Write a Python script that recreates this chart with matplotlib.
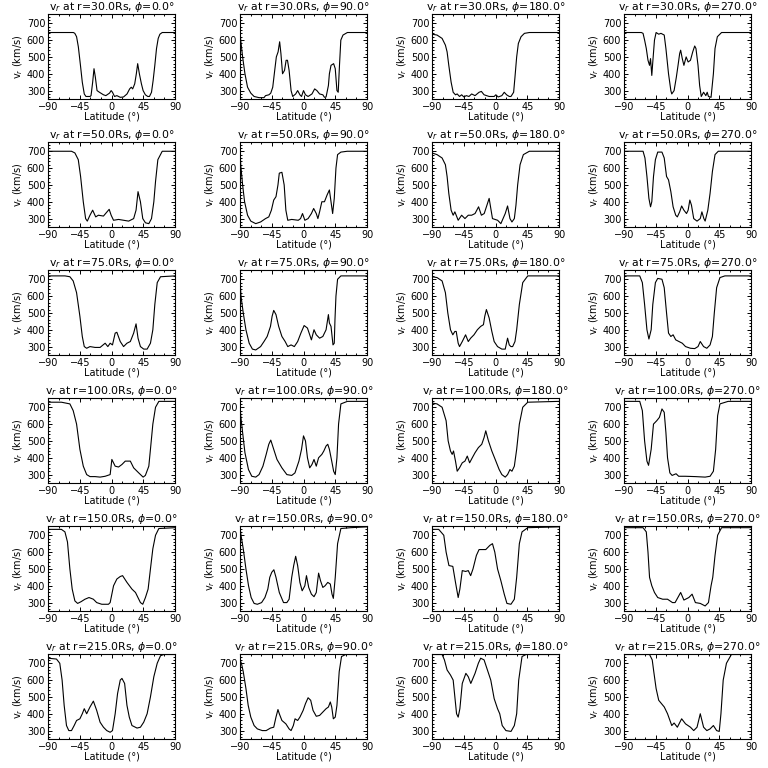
import numpy as np
import matplotlib
matplotlib.use("Agg")
import matplotlib.pyplot as plt
from matplotlib.ticker import MultipleLocator

radii = [30.0, 50.0, 75.0, 100.0, 150.0, 215.0]
phis = [0.0, 90.0, 180.0, 270.0]

# r = 30 Rs
lat_r30_p0 = [-90, -54, -52, -49.5, -47, -44, -41.4, -38.6, -36.2, -30.5, -29, -26.7, -24.8, -22.9, -20.5, -17.1, -11.4, -8, -2.8, -0.5, 1.4, 4.3, 7.6, 12.4, 17, 22, 25.7, 28, 30, 32.9, 35.2, 37.1, 39.5, 42.4, 44.8, 48, 51.4, 53.8, 56.7, 59, 61.4, 63.8, 66.2, 68.6, 71.9, 90]
v_r30_p0 = [645, 645, 640, 620, 560, 450, 350, 280, 265, 265, 270, 350, 430, 380, 300, 290, 275, 270, 285, 300, 290, 265, 270, 260, 262, 280, 310, 320, 310, 340, 400, 460, 400, 340, 300, 275, 265, 265, 290, 360, 450, 550, 610, 635, 645, 645]
lat_r30_p90 = [-90, -89, -86.3, -83, -79.3, -74.7, -70, -63, -56, -53.8, -49, -46.4, -43.6, -40.8, -38.5, -36, -33.8, -32, -29.7, -26.9, -24.6, -22.7, -20.4, -17.6, -15.3, -11.1, -8.3, -5.1, -2.8, 0, 2.8, 6.5, 12, 15.8, 19, 22.8, 27.4, 29.7, 32, 35.3, 36.7, 39, 42.7, 45, 47.4, 49.2, 51, 52.9, 56, 62.2, 90]
v_r30_p90 = [650, 600, 500, 400, 320, 285, 265, 258, 258, 270, 275, 285, 320, 420, 500, 530, 590, 520, 400, 420, 480, 480, 420, 300, 265, 280, 300, 275, 265, 300, 275, 265, 280, 310, 300, 280, 275, 260, 262, 330, 400, 450, 460, 430, 300, 290, 450, 600, 630, 645, 645]
lat_r30_p180 = [-90, -82.9, -75.7, -71, -68.6, -66.2, -62.9, -60, -56.7, -54.3, -51, -48, -44.8, -41.4, -37.6, -33.8, -29, -23.3, -20, -16.2, -9, -1.9, 0.5, 3.8, 9, 12.4, 15.7, 19.5, 21.9, 25.7, 27.6, 30, 32.4, 36.2, 41, 48, 90]
v_r30_p180 = [635, 630, 610, 570, 530, 450, 350, 290, 275, 280, 265, 275, 262, 270, 265, 280, 270, 290, 295, 275, 265, 265, 275, 262, 270, 290, 275, 265, 265, 290, 380, 500, 580, 620, 640, 645, 645]
lat_r30_p270 = [-90, -65.4, -63, -60.8, -58.4, -56, -53.8, -52.4, -50.6, -49.2, -46.8, -44.5, -40.8, -37.6, -33, -30.6, -26.9, -23.6, -22.3, -19, -15.8, -13.4, -11.1, -9.7, -7.4, -5.1, -1.9, 0.9, 4.2, 7.4, 10.2, 12, 14.9, 17.2, 19.5, 22.8, 26, 27.9, 29.7, 33.4, 36.7, 39, 42.3, 48.3, 90]
v_r30_p270 = [645, 645, 640, 600, 550, 480, 450, 490, 390, 470, 600, 645, 635, 640, 630, 550, 400, 300, 280, 300, 380, 450, 520, 540, 490, 450, 500, 470, 480, 530, 565, 550, 450, 330, 265, 290, 270, 290, 265, 260, 400, 550, 620, 645, 645]

# r = 50 Rs
lat_r50_p0 = [-90, -56.7, -51.9, -47.1, -43.8, -40, -36.7, -34.3, -30.5, -26.7, -22.4, -18.6, -11.4, -3.3, -0.5, 2.9, 10, 17.1, 24.3, 31.4, 34.8, 37.6, 41, 44.3, 48.1, 52.9, 56.7, 60, 62.4, 65.7, 71.9, 90]
v_r50_p0 = [700, 700, 690, 650, 550, 400, 300, 285, 320, 350, 310, 320, 315, 355, 320, 290, 295, 290, 285, 300, 350, 460, 400, 300, 275, 270, 300, 400, 520, 650, 700, 700]
lat_r50_p90 = [-90, -89, -86.3, -83.5, -79.3, -74.7, -67.7, -60.8, -53.8, -49.2, -45.5, -42.2, -39, -36.2, -34.3, -30.6, -27.4, -25, -22.3, -16.7, -7.4, -4.2, -1.4, 1.9, 6.5, 11.2, 14.4, 18.1, 20.4, 22.8, 26, 29.7, 33.4, 36.7, 39, 41.3, 43.6, 46, 48.3, 53, 62, 90]
v_r50_p90 = [720, 620, 500, 400, 320, 285, 270, 280, 300, 310, 350, 410, 430, 500, 570, 575, 500, 350, 290, 295, 290, 300, 330, 290, 300, 330, 360, 330, 300, 340, 400, 400, 440, 470, 400, 330, 420, 600, 680, 695, 700, 700]
lat_r50_p180 = [-90, -82.9, -75.7, -71, -68.6, -66.2, -62.9, -60, -57.6, -52.9, -48, -43.3, -38.6, -33.8, -29, -24, -20, -16, -9, -4.3, 3, 7.6, 13.8, 17.1, 20.5, 23.3, 26.7, 29, 31.4, 34.8, 39.5, 48, 90]
v_r50_p180 = [690, 680, 660, 620, 550, 450, 350, 320, 340, 290, 320, 300, 320, 320, 330, 370, 320, 330, 420, 300, 290, 270, 330, 375, 300, 280, 300, 380, 500, 620, 680, 700, 700]
lat_r50_p270 = [-90, -63, -60.3, -57.5, -54.7, -52.4, -50.6, -48.2, -45.5, -42.2, -36.2, -33, -29.7, -26.9, -23.6, -20.4, -16.7, -14.4, -11.1, -8.3, -5.1, -1.4, 0.9, 3.3, 5.6, 8.8, 13.5, 18.1, 20.4, 23.2, 25, 28.8, 32, 35.3, 39, 43.6, 90]
v_r50_p270 = [700, 700, 660, 550, 420, 370, 400, 550, 650, 695, 695, 660, 550, 530, 460, 370, 320, 310, 340, 375, 350, 330, 350, 410, 380, 300, 285, 300, 340, 300, 285, 350, 450, 580, 680, 700, 700]

# r = 75 Rs
lat_r75_p0 = [-90, -66, -59, -54.3, -49.5, -44.8, -41.4, -38.6, -35.2, -30.5, -23.3, -16.2, -9, -5.2, -1.9, 1.4, 5.2, 7.6, 12.4, 17.1, 21.9, 26.7, 31.4, 34.8, 37.6, 41, 45.7, 50.5, 55.2, 58.6, 61.4, 64.8, 69.5, 90]
v_r75_p0 = [720, 720, 715, 690, 620, 480, 360, 300, 290, 300, 295, 295, 320, 300, 320, 310, 380, 385, 330, 300, 320, 330, 380, 435, 350, 300, 285, 285, 320, 400, 550, 680, 715, 720]
lat_r75_p90 = [-90, -88.6, -85.4, -81.6, -77, -72.4, -67.7, -60.8, -56, -51.5, -46.8, -44.5, -42.2, -39, -35.2, -30.6, -26, -22.3, -17.6, -13, -8.3, -3.7, 0.9, 5.6, 8.8, 11.2, 14.9, 18.1, 22.8, 27.4, 32, 35.3, 36.7, 39, 41.8, 43.6, 44.6, 46, 48.3, 53, 90]
v_r75_p90 = [700, 600, 500, 400, 320, 285, 280, 300, 330, 360, 420, 480, 515, 490, 420, 360, 330, 300, 310, 300, 330, 380, 425, 410, 370, 340, 400, 370, 350, 360, 400, 490, 440, 420, 310, 320, 460, 600, 700, 720, 720]
lat_r75_p180 = [-90, -82.9, -75.7, -71, -67.6, -63.8, -60.5, -57.6, -55.7, -52.9, -51, -47.1, -42.4, -38.6, -35.2, -30.5, -25.7, -21, -17.1, -15.2, -12.9, -9, -5.2, -1.9, 2.9, 9, 13.8, 17.1, 19.5, 21.9, 24.3, 27.6, 30, 33.8, 38.6, 45.7, 90]
v_r75_p180 = [715, 710, 690, 620, 500, 400, 370, 390, 390, 320, 300, 330, 370, 330, 350, 370, 400, 420, 430, 480, 520, 470, 390, 330, 300, 285, 285, 350, 310, 300, 300, 330, 400, 550, 680, 720, 720]
lat_r75_p270 = [-90, -67.7, -64, -60.8, -57.5, -54.7, -51.5, -49.2, -45.5, -42.2, -36.2, -33, -29.7, -26.9, -23.6, -20.4, -16.7, -12.1, -7.4, -2.8, 4.2, 10.2, 14.9, 18.1, 22.8, 27.4, 32, 35.3, 38, 41.3, 46, 53, 90]
v_r75_p270 = [720, 720, 680, 550, 400, 345, 400, 550, 680, 705, 700, 650, 500, 380, 360, 370, 340, 330, 320, 300, 290, 288, 300, 330, 300, 290, 310, 360, 500, 650, 710, 720, 720]

# r = 100 Rs
lat_r100_p0 = [-90, -71, -59, -54.3, -49.5, -44.8, -40, -35.2, -30.5, -23.3, -16.2, -9, -1.9, 0.5, 5.2, 10, 14.8, 19.5, 26.7, 31.4, 38.6, 44.8, 48, 52.9, 55.2, 58.6, 62.4, 67.1, 90]
v_r100_p0 = [730, 730, 720, 680, 600, 450, 350, 300, 288, 288, 285, 290, 300, 390, 350, 345, 360, 380, 380, 340, 310, 285, 295, 350, 450, 600, 700, 735, 735]
lat_r100_p90 = [-90, -89, -86.3, -83, -78, -73.3, -67.7, -63, -57.5, -52.9, -49.2, -46.4, -42.2, -37.6, -30.6, -23.6, -16.7, -12.1, -6.5, -2.8, 0, 2.8, 5.6, 8.8, 12, 14.9, 18.1, 21.4, 26, 28.8, 32, 34.4, 36.7, 40, 42.7, 45, 47.4, 49.7, 53, 62.2, 90]
v_r100_p90 = [720, 650, 550, 430, 330, 290, 285, 300, 350, 420, 480, 505, 450, 390, 340, 300, 295, 310, 380, 450, 530, 500, 400, 340, 360, 390, 350, 400, 420, 440, 470, 480, 450, 380, 320, 300, 400, 600, 720, 735, 735]
lat_r100_p180 = [-90, -82.9, -75.7, -70, -67.1, -63.8, -61.4, -59.5, -56.7, -54.3, -51, -47.1, -43.3, -40, -36.7, -32.9, -29, -24.3, -19.5, -16.2, -13.8, -10, -5.2, 0.5, 5.2, 9, 13.8, 17.1, 20.5, 23.3, 26.7, 30, 33.8, 38.6, 45.7, 90]
v_r100_p180 = [725, 720, 700, 620, 500, 440, 420, 440, 380, 320, 340, 370, 380, 410, 370, 400, 430, 460, 480, 520, 560, 500, 440, 380, 330, 300, 285, 300, 330, 320, 350, 450, 600, 700, 730, 735]
lat_r100_p270 = [-90, -67.7, -64, -60.8, -57.5, -55.2, -51.5, -48.2, -43.6, -39.8, -36.2, -33, -30.6, -28.3, -25, -21.8, -16.2, -12.5, -3.2, 11.2, 25, 32, 36.7, 39.9, 42.7, 46, 57.6, 90]
v_r100_p270 = [735, 735, 680, 500, 380, 355, 450, 600, 620, 640, 690, 670, 550, 400, 310, 295, 305, 290, 290, 288, 285, 290, 320, 450, 650, 720, 735, 735]

# r = 150 Rs
lat_r150_p0 = [-90, -71, -66, -62.4, -59, -55.7, -51.9, -48, -43.3, -37.6, -31.9, -25.7, -21, -13.8, -4.3, -1.9, 2.9, 7.6, 12.4, 15.7, 21.9, 29, 34, 41, 44.3, 48.1, 51.9, 55.2, 58.6, 62.4, 67.1, 90]
v_r150_p0 = [735, 735, 720, 660, 500, 380, 310, 295, 305, 320, 330, 320, 300, 290, 290, 300, 400, 440, 455, 460, 420, 380, 360, 300, 290, 330, 380, 500, 620, 700, 740, 745]
lat_r150_p90 = [-90, -88.6, -85.4, -81.6, -77.9, -74.2, -70, -65.4, -59.4, -54.7, -50.6, -47.8, -45, -42, -39, -34.3, -28.3, -23.6, -20.4, -16.7, -13.9, -11.1, -8.3, -5.1, -1.9, 1.9, 4.2, 7.4, 11.2, 14.9, 18.1, 21.4, 24.1, 27.4, 30.6, 34.4, 38, 40.4, 42.3, 45, 48.3, 53, 66.8, 90]
v_r150_p90 = [750, 700, 620, 500, 400, 330, 295, 290, 300, 330, 380, 450, 480, 495, 450, 360, 300, 300, 320, 450, 520, 575, 520, 420, 370, 400, 460, 390, 350, 335, 360, 475, 430, 390, 400, 420, 410, 350, 325, 450, 650, 740, 745, 750]
lat_r150_p180 = [-90, -80.5, -73.3, -70, -66, -60.5, -56.7, -52.9, -50.5, -47.1, -42.4, -38.6, -35.2, -31.9, -27.1, -23.3, -18.6, -13.8, -8, -4.3, -1, 2.9, 7.6, 12.4, 16.2, 21.9, 26.7, 30, 33.8, 37.6, 45.7, 90]
v_r150_p180 = [735, 735, 700, 600, 520, 515, 420, 330, 380, 490, 485, 490, 460, 500, 580, 615, 615, 615, 640, 650, 600, 500, 430, 350, 295, 290, 320, 450, 650, 720, 745, 750]
lat_r150_p270 = [-90, -63, -58.4, -56, -53.8, -50.6, -46.8, -42.2, -35.2, -28.3, -21.3, -17.6, -9.7, -5.1, 1.9, 6.5, 11.2, 18.1, 25, 29.7, 33.4, 35.8, 39, 42.7, 48.3, 90]
v_r150_p270 = [745, 745, 720, 600, 450, 400, 360, 330, 320, 320, 300, 300, 360, 315, 330, 350, 300, 295, 280, 300, 400, 450, 580, 700, 745, 745]

# r = 215 Rs
lat_r215_p0 = [-90, -78, -73.3, -70, -67.1, -63.8, -60.5, -56.7, -52.9, -49.5, -44.8, -41.4, -38.6, -35.2, -30.5, -25.7, -21, -16.2, -11.4, -6.7, -1.9, 1.4, 5.2, 8.6, 12.4, 14.8, 18.6, 21.9, 25.2, 29, 36.2, 41, 45.7, 50.5, 55.2, 60, 64.8, 69.5, 74.3, 90]
v_r215_p0 = [730, 725, 700, 600, 450, 330, 300, 300, 330, 360, 370, 400, 430, 400, 440, 475, 420, 350, 320, 300, 290, 300, 400, 520, 600, 610, 580, 450, 380, 330, 315, 320, 350, 400, 500, 620, 700, 745, 752, 752]
lat_r215_p90 = [-90, -88, -85.4, -81.6, -78.4, -74.7, -70, -65.4, -58.4, -52.9, -46.8, -42.2, -39, -36.2, -34.3, -30.6, -25, -20.4, -17.6, -14.4, -12, -8.3, -5.1, -0.5, 2.8, 6.5, 10.2, 13.5, 18.1, 22.8, 27.4, 32, 35.3, 38, 40, 42.3, 45, 47.4, 50.6, 53.9, 59.9, 90]
v_r215_p90 = [720, 700, 650, 550, 450, 380, 330, 310, 300, 300, 315, 320, 380, 425, 400, 360, 340, 310, 300, 330, 370, 360, 380, 420, 460, 495, 480, 420, 385, 390, 410, 430, 440, 470, 440, 370, 380, 450, 650, 740, 752, 752]
lat_r215_p180 = [-90, -75.7, -72.4, -68.6, -63.8, -60, -57.6, -55.2, -52.9, -50.5, -47.1, -42, -38.6, -35, -29, -24.3, -21, -16.2, -6.7, -1.9, 2.9, 6, 9.5, 14.8, 22, 26.7, 30, 32.9, 37.6, 43.3, 90]
v_r215_p180 = [752, 752, 720, 660, 630, 600, 500, 400, 380, 430, 580, 640, 620, 580, 640, 700, 730, 720, 600, 490, 430, 400, 330, 300, 295, 330, 400, 600, 740, 752, 752]
lat_r215_p270 = [-90, -53.8, -50, -47.8, -44.5, -40.8, -32.9, -28.3, -22.3, -19, -14.4, -8.3, -2.8, 4.2, 8.8, 13.5, 18.1, 22.8, 27.4, 32, 36.7, 41.3, 45, 47.4, 50.6, 55.2, 62.2, 90]
v_r215_p270 = [752, 752, 720, 650, 550, 480, 440, 400, 330, 345, 320, 370, 340, 320, 300, 320, 400, 320, 300, 310, 330, 300, 295, 400, 600, 700, 752, 752]

lat_rows = [
    [lat_r30_p0, lat_r30_p90, lat_r30_p180, lat_r30_p270],
    [lat_r50_p0, lat_r50_p90, lat_r50_p180, lat_r50_p270],
    [lat_r75_p0, lat_r75_p90, lat_r75_p180, lat_r75_p270],
    [lat_r100_p0, lat_r100_p90, lat_r100_p180, lat_r100_p270],
    [lat_r150_p0, lat_r150_p90, lat_r150_p180, lat_r150_p270],
    [lat_r215_p0, lat_r215_p90, lat_r215_p180, lat_r215_p270],
]
v_rows = [
    [v_r30_p0, v_r30_p90, v_r30_p180, v_r30_p270],
    [v_r50_p0, v_r50_p90, v_r50_p180, v_r50_p270],
    [v_r75_p0, v_r75_p90, v_r75_p180, v_r75_p270],
    [v_r100_p0, v_r100_p90, v_r100_p180, v_r100_p270],
    [v_r150_p0, v_r150_p90, v_r150_p180, v_r150_p270],
    [v_r215_p0, v_r215_p90, v_r215_p180, v_r215_p270],
]

plt.rcParams['font.family'] = ['DejaVu Sans']
plt.rcParams['mathtext.fontset'] = 'dejavusans'

W = 768.0
fig = plt.figure(figsize=(7.68, 7.68), dpi=100)

for i, r in enumerate(radii):
    for j, phi in enumerate(phis):
        # panel box in pixels inside a 192x128 cell
        x0 = j * 192 + 48
        y0 = i * 128 + 14
        ax = fig.add_axes([x0 / W, 1 - (y0 + 85) / W, 127 / W, 85 / W])
        ax.plot(lat_rows[i][j], v_rows[i][j], color='black', lw=0.8)
        ax.set_xlim(-90, 90)
        ax.set_ylim(250, 755)
        ax.xaxis.set_major_locator(MultipleLocator(45))
        ax.xaxis.set_minor_locator(MultipleLocator(15))
        ax.yaxis.set_major_locator(MultipleLocator(100))
        ax.yaxis.set_minor_locator(MultipleLocator(20))
        ax.tick_params(which='both', direction='in', top=True, right=True,
                       labelsize=7, width=0.7, pad=2)
        ax.tick_params(which='major', length=3)
        ax.tick_params(which='minor', length=1.5)
        for s in ax.spines.values():
            s.set_linewidth(0.8)
        ax.set_title('v$_r$ at r=%.1fRs, $\\phi$=%.1f°' % (r, phi),
                     fontsize=7.8, pad=2)
        ax.set_xlabel('Latitude (°)', fontsize=7, labelpad=0)
        ax.set_ylabel('v$_r$ (km/s)', fontsize=7, labelpad=1)

fig.savefig('out.png', dpi=100, facecolor='white')
